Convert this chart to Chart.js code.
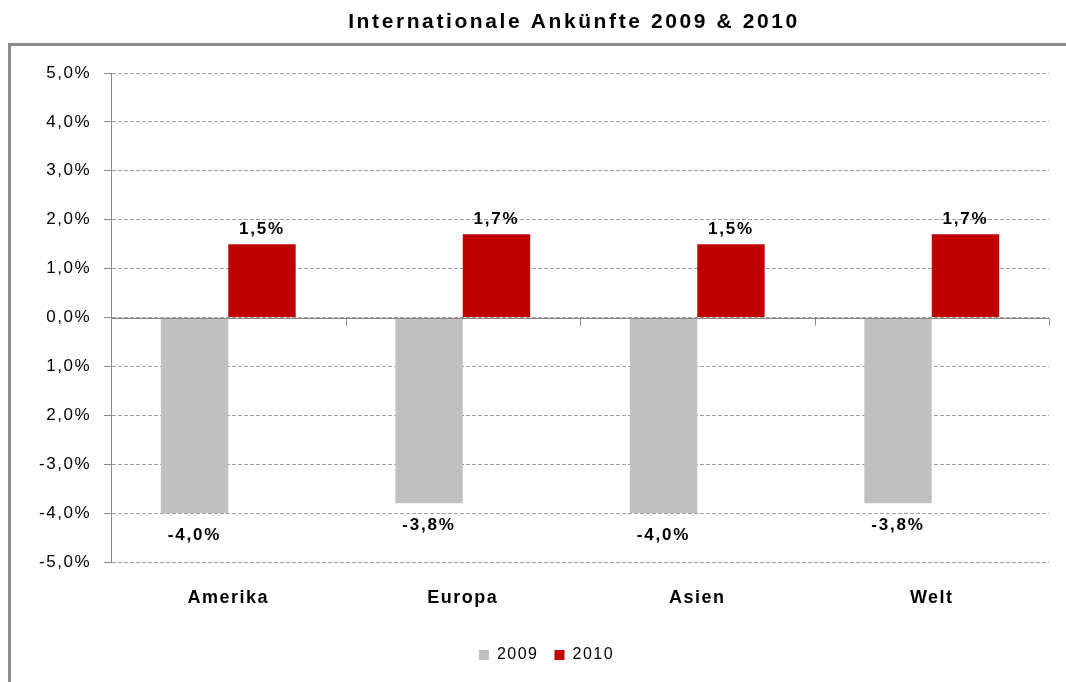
<!DOCTYPE html>
<html>
<head>
<meta charset="utf-8">
<script src="https://cdn.jsdelivr.net/npm/chart.js@4/dist/chart.umd.min.js"></script>
<style>
  html, body { margin: 0; padding: 0; background: #fff; }
  canvas { display: block; }
</style>
</head>
<body>
<canvas id="myChart" width="1066" height="682"></canvas>
<script>
const chartTitle = 'Internationale Ankünfte 2009 & 2010';
const categories = ['Amerika', 'Europa', 'Asien', 'Welt'];
const seriesNames = ['2009', '2010'];
const values2009 = [-4.0, -3.8, -4.0, -3.8];
const values2010 = [1.5, 1.7, 1.5, 1.7];
// tick labels as printed in the original (the -1 and -2 ticks have no minus sign)
const yTickValues = [-5, -4, -3, -2, -1, 0, 1, 2, 3, 4, 5];
const yTickLabels = ['-5,0%', '-4,0%', '-3,0%', '2,0%', '1,0%', '0,0%', '1,0%', '2,0%', '3,0%', '4,0%', '5,0%'];

const FONT = 'Arial, "Liberation Sans", sans-serif';
const ctx = document.getElementById('myChart');

// the original text is a bit wider than plain Arial
const spacing = {
  id: 'spacing',
  beforeUpdate(chart) { chart.ctx.letterSpacing = '1.5px'; },
  beforeDraw(chart) { chart.ctx.letterSpacing = '1.5px'; },
  afterLayout(chart) {
    // legend is centred a little right of the canvas middle
    chart.legend.left += 7;
    chart.legend.right += 7;
  }
};

// grey frame and title
const frame = {
  id: 'frame',
  beforeDraw(chart) {
    const c = chart.ctx;
    c.save();
    c.strokeStyle = '#8c8c8c';
    c.lineWidth = 3;
    c.beginPath();
    c.moveTo(9.5, chart.height);
    c.lineTo(9.5, 44.5);
    c.lineTo(chart.width, 44.5);
    c.stroke();
    c.fillStyle = '#000';
    c.font = 'bold 21px ' + FONT;
    c.letterSpacing = '2.6px';
    c.textAlign = 'center';
    c.textBaseline = 'alphabetic';
    c.fillText(chartTitle, 574, 28);
    c.restore();
  }
};

// zero line, category ticks on it, and value labels
const barLabels = {
  id: 'barLabels',
  afterDatasetsDraw(chart) {
    const c = chart.ctx, x = chart.scales.x, y = chart.scales.y, area = chart.chartArea;
    const y0 = Math.round(y.getPixelForValue(0)) + 0.5;
    const half = (x.getPixelForValue(1) - x.getPixelForValue(0)) / 2;
    c.save();
    c.strokeStyle = '#888';
    c.lineWidth = 1;
    c.beginPath();
    c.moveTo(area.left, y0);
    c.lineTo(area.right, y0);
    for (let i = 0; i < categories.length; i++) {
      const px = Math.round(x.getPixelForValue(i) + half) + 0.5;
      c.moveTo(px, y0);
      c.lineTo(px, y0 + 7);
    }
    c.stroke();

    c.font = 'bold 17px ' + FONT;
    c.letterSpacing = '1.8px';
    c.fillStyle = '#000';
    c.textAlign = 'center';
    c.textBaseline = 'alphabetic';
    chart.data.datasets.forEach((ds, di) => {
      chart.getDatasetMeta(di).data.forEach((bar, i) => {
        const v = ds.data[i];
        const txt = v.toFixed(1).replace('.', ',') + '%';
        c.fillText(txt, bar.x, v >= 0 ? bar.y - 10 : bar.y + 27);
      });
    });
    c.restore();
  }
};

const config = {
  type: 'bar',
  data: {
    labels: categories,
    datasets: [
      { label: seriesNames[0], data: values2009, backgroundColor: '#c0c0c0' },
      { label: seriesNames[1], data: values2010, backgroundColor: '#c00000' }
    ]
  },
  options: {
    responsive: false,
    animation: false,
    datasets: {
      bar: { categoryPercentage: 0.575, barPercentage: 1 }
    },
    layout: {
      padding: { top: 73, left: 30, right: 17, bottom: 9 }
    },
    plugins: {
      legend: {
        position: 'bottom',
        labels: {
          boxWidth: 10,
          boxHeight: 10,
          padding: 16,
          color: '#000',
          font: { family: FONT, size: 16 }
        }
      },
      tooltip: { enabled: false }
    },
    scales: {
      x: {
        grid: { display: false, drawTicks: false },
        border: { display: false },
        ticks: {
          color: '#000',
          padding: 25,
          font: { family: FONT, size: 18, weight: 'bold' }
        },
        afterFit(s) { s.height = 69; }
      },
      y: {
        min: -5,
        max: 5,
        ticks: {
          stepSize: 1,
          color: '#000',
          padding: 13,
          font: { family: FONT, size: 17 },
          callback: (v) => yTickLabels[yTickValues.indexOf(v)]
        },
        grid: { color: '#a0a0a0', tickColor: '#888', tickLength: 7 },
        border: { color: '#888', dash: [4, 2] },
        afterFit(s) { s.width = 81; }
      }
    }
  },
  plugins: [spacing, frame, barLabels]
};

let chart = new Chart(ctx, config);
</script>
</body>
</html>
